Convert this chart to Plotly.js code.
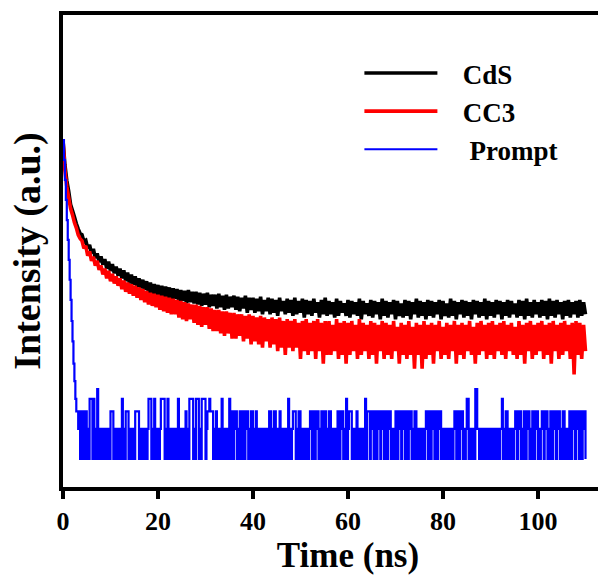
<!DOCTYPE html>
<html>
<head>
<meta charset="utf-8">
<script src="https://cdn.plot.ly/plotly-3.0.1.min.js"></script>
<style>
html, body { margin: 0; padding: 0; overflow: hidden; background: #fff; }
#chart { width: 640px; height: 581px; }
</style>
</head>
<body>
<div id="chart"></div>
<script>
// Time axis of the decay traces: start at 0 ns, one channel every 0.4 ns (0 ... 110 ns)
const decayStart = 0;
const decayStep = 0.4;
// Time axis of the prompt (IRF) trace: start at 0 ns, one channel every 0.2 ns (0 ... 110 ns)
const promptStart = 0;
const promptStep = 0.2;

// Series names
const seriesNames = ["CdS", "CC3", "Prompt"];

// Photon counts (log intensity axis)
const cdsCounts = [
  1549, 880, 610, 475, 350, 305, 265, 226, 200, 180,
  175, 150, 154, 128, 138, 114, 126, 102, 114, 93,
  106, 88, 100, 80, 94, 76, 89, 72, 84, 68,
  80, 64, 77, 60, 73, 57, 70, 55, 67, 53,
  64, 51, 62, 49, 60, 46, 58, 45, 56, 44,
  55, 42, 54, 41, 53, 40, 52, 39, 51, 40,
  50, 37, 49, 38, 48, 36, 49, 37, 47, 36,
  47, 35, 46, 34, 45, 35, 46, 33, 44, 34,
  44, 32, 45, 33, 43, 31, 44, 32, 42, 33,
  43, 31, 42, 30, 41, 32, 43, 29, 41, 31,
  41, 29, 40, 30, 42, 28, 39, 30, 41, 28,
  40, 29, 39, 27, 41, 30, 38, 28, 40, 29,
  39, 27, 41, 28, 38, 29, 40, 26, 39, 28,
  38, 27, 40, 29, 37, 26, 39, 28, 41, 27,
  38, 28, 37, 26, 40, 27, 38, 29, 36, 27,
  39, 26, 38, 28, 37, 27, 40, 25, 38, 28,
  36, 27, 39, 26, 38, 28, 37, 25, 40, 27,
  38, 26, 37, 28, 39, 25, 38, 27, 36, 26,
  39, 27, 38, 25, 37, 28, 40, 26, 38, 27,
  37, 25, 39, 27, 38, 26, 37, 28, 39, 25,
  38, 27, 36, 26, 40, 27, 38, 25, 37, 28,
  39, 26, 38, 27, 37, 25, 39, 28, 38, 26,
  37, 27, 40, 25, 38, 27, 37, 26, 39, 28,
  38, 25, 37, 27, 39, 26, 38, 28, 36, 26,
  39, 27, 38, 25, 40, 27, 37, 26, 39, 28,
  37, 26, 39, 27, 38, 25, 40, 27, 38, 26,
  39, 28, 37, 25, 38, 27, 39, 26, 37, 28,
  38, 26, 39, 27, 37, 28
];

const cc3Counts = [
  1549, 770, 530, 412, 320, 276, 232, 205, 174, 160,
  152, 128, 135, 108, 119, 96, 105, 86, 96, 78,
  86, 70, 80, 64, 76, 60, 71, 57, 67, 54,
  64, 50, 61, 47, 58, 45, 56, 43, 54, 41,
  52, 39, 50, 37, 48, 35, 46, 34, 45, 33,
  44, 31, 43, 30, 42, 29, 41, 28, 40, 28,
  39, 26, 38, 25, 37, 24, 36, 25, 35, 23,
  35, 22, 34, 21, 33, 22, 33, 20, 32, 19,
  31, 19, 31, 18, 30, 17, 30, 18, 29, 16,
  29, 16, 28, 17, 28, 15, 27, 16, 28, 14,
  27, 15, 26, 14, 27, 13, 26, 15, 25, 13,
  26, 14, 25, 12, 26, 13, 24, 11, 25, 13,
  24, 12, 25, 13, 23, 10, 24, 12, 25, 11,
  23, 12, 24, 10, 25, 12, 23, 9, 24, 11,
  24, 11, 22, 12, 25, 10, 23, 11, 24, 9,
  23, 11, 24, 12, 22, 10, 25, 11, 23, 12,
  22, 10, 24, 11, 23, 9, 22, 12, 24, 10,
  23, 11, 22, 10, 24, 12, 21, 9, 23, 11,
  22, 10, 24, 11, 21, 8, 23, 11, 22, 8,
  24, 10, 22, 11, 23, 9, 22, 12, 24, 10,
  21, 11, 23, 10, 22, 12, 24, 9, 22, 11,
  23, 10, 22, 12, 24, 11, 21, 9, 23, 11,
  24, 12, 22, 10, 23, 11, 24, 10, 22, 12,
  23, 11, 24, 10, 22, 12, 23, 11, 21, 10,
  24, 11, 22, 9, 23, 12, 24, 10, 22, 11,
  23, 12, 24, 10, 22, 11, 23, 9, 24, 12,
  22, 10, 23, 11, 24, 12, 22, 10, 23, 7,
  24, 11, 23, 10, 22, 12
];

const promptCounts = [
  1549, 980, 617, 390, 245, 155, 98, 62, 39, 24, 15, 9, 6, 4, 3, 3,
  2, 3, 1, 3, 1, 2, 3, 1, 3, 1, 2, 1, 4, 4, 4, 1, 4, 1, 2, 1,
  5, 1, 2, 1, 2, 1, 2, 1, 2, 1, 2, 1, 2, 1, 3, 3, 3, 1, 2, 1,
  2, 1, 2, 1, 2, 1, 4, 1, 2, 1, 3, 3, 3, 1, 2, 1, 2, 1, 2, 1,
  3, 3, 3, 3, 1, 2, 1, 2, 1, 2, 1, 2, 1, 2, 4, 4, 4, 1, 2, 1,
  4, 1, 2, 1, 2, 1, 2, 4, 4, 4, 4, 1, 2, 1, 4, 1, 2, 1, 2, 1,
  2, 1, 2, 1, 2, 4, 1, 2, 1, 2, 1, 2, 1, 3, 1, 2, 1, 4, 4, 4,
  4, 1, 2, 1, 4, 4, 4, 1, 2, 1, 4, 4, 4, 4, 1, 2, 3, 3, 4, 3,
  3, 3, 1, 2, 1, 3, 1, 2, 1, 2, 1, 4, 1, 2, 1, 2, 1, 2, 1, 4,
  1, 3, 3, 1, 2, 3, 3, 1, 2, 1, 3, 3, 1, 2, 3, 1, 2, 3, 3, 1,
  2, 1, 3, 3, 1, 2, 1, 3, 1, 2, 1, 2, 1, 2, 1, 2, 1, 2, 1, 2,
  1, 3, 3, 1, 2, 1, 3, 3, 1, 2, 1, 2, 3, 1, 2, 1, 2, 1, 2, 1,
  2, 4, 1, 2, 1, 2, 3, 3, 3, 1, 2, 1, 3, 3, 1, 2, 1, 2, 1, 2,
  1, 2, 1, 2, 3, 3, 1, 2, 3, 1, 2, 3, 3, 1, 2, 1, 3, 3, 1, 2,
  3, 1, 2, 1, 3, 3, 1, 2, 1, 2, 1, 2, 1, 3, 3, 1, 2, 3, 3, 1,
  2, 1, 4, 1, 2, 3, 3, 3, 1, 2, 1, 2, 1, 3, 1, 2, 1, 2, 1, 2,
  1, 2, 4, 1, 3, 3, 3, 1, 2, 3, 3, 1, 3, 3, 1, 2, 3, 3, 1, 2,
  3, 3, 1, 3, 3, 1, 2, 3, 3, 1, 2, 1, 2, 1, 3, 3, 1, 2, 3, 3,
  1, 2, 3, 3, 1, 3, 3, 1, 2, 3, 3, 1, 2, 1, 3, 3, 1, 2, 1, 2,
  1, 2, 1, 2, 1, 2, 3, 3, 1, 3, 3, 1, 2, 3, 3, 1, 3, 3, 1, 2,
  3, 3, 1, 2, 1, 2, 1, 2, 1, 2, 1, 2, 1, 2, 1, 2, 3, 3, 1, 3,
  3, 1, 2, 3, 3, 1, 2, 1, 2, 4, 4, 1, 2, 1, 2, 1, 2, 1, 5, 5,
  2, 2, 1, 2, 2, 1, 2, 2, 1, 2, 2, 1, 2, 2, 1, 2, 2, 1, 2, 2,
  1, 2, 2, 1, 2, 2, 4, 1, 2, 1, 3, 3, 1, 2, 1, 2, 1, 2, 1, 2,
  3, 3, 1, 2, 3, 3, 1, 2, 1, 3, 3, 1, 2, 3, 3, 1, 2, 1, 3, 3,
  1, 2, 3, 3, 1, 2, 1, 2, 3, 3, 1, 2, 3, 3, 1, 2, 1, 3, 3, 1,
  2, 3, 3, 1, 2, 3, 3, 1, 2, 1, 3, 3, 1, 2, 1, 2, 1, 3, 3, 1,
  2, 3, 3, 1, 2, 3, 3, 1, 3, 3, 1, 2, 3, 3, 1
];

// Tick labels on the time axis
const timeTicks = [0, 20, 40, 60, 80, 100];
const timeTickLabels = ["0", "20", "40", "60", "80", "100"];

const serif = "'Liberation Serif', 'Times New Roman', Times, serif";
const nb = "\u00a0";

const traces = [
  {
    name: nb + nb + nb + seriesNames[0],
    y: cdsCounts, x0: decayStart, dx: decayStep,
    type: "scatter", mode: "lines",
    line: { color: "#000000", width: 3.6, simplify: false }
  },
  {
    name: nb + nb + nb + seriesNames[1],
    y: cc3Counts, x0: decayStart, dx: decayStep,
    type: "scatter", mode: "lines",
    line: { color: "#ff0000", width: 3.6, simplify: false }
  },
  {
    name: nb + nb + nb + nb + seriesNames[2],
    y: promptCounts, x0: promptStart, dx: promptStep,
    type: "scatter", mode: "lines",
    line: { color: "#0000ff", width: 2.2, shape: "hv", simplify: false }
  }
];

const layout = {
  width: 640,
  height: 581,
  margin: { l: 63, r: 7, t: 15, b: 94 },
  paper_bgcolor: "#ffffff",
  plot_bgcolor: "#ffffff",
  showlegend: true,
  legend: {
    x: 0.52, y: 0.928, xanchor: "left", yanchor: "top",
    bgcolor: "rgba(0,0,0,0)",
    borderwidth: 0,
    itemwidth: 73,
    font: { family: serif, size: 27, weight: "bold", color: "#000000" }
  },
  xaxis: {
    range: [0, 120],
    tickmode: "array",
    tickvals: timeTicks,
    ticktext: timeTickLabels,
    ticks: "outside",
    ticklen: 8,
    tickwidth: 4,
    tickcolor: "#000000",
    showline: true,
    linewidth: 4,
    linecolor: "#000000",
    mirror: true,
    showgrid: false,
    zeroline: false,
    automargin: false,
    tickfont: { family: serif, size: 26, weight: "bold", color: "#000000" },
    title: {
      text: "Time (ns)",
      font: { family: serif, size: 35, weight: "bold", color: "#000000" },
      standoff: 4
    }
  },
  yaxis: {
    type: "log",
    range: [-0.28, 4.44],
    showline: true,
    linewidth: 4,
    linecolor: "#000000",
    mirror: false,
    ticks: "",
    showticklabels: false,
    showgrid: false,
    zeroline: false,
    automargin: false,
    title: {
      text: "Intensity (a.u.)",
      font: { family: serif, size: 38, weight: "bold", color: "#000000" },
      standoff: 8
    }
  }
};

Plotly.newPlot("chart", traces, layout, { staticPlot: true, displayModeBar: false });
</script>
</body>
</html>
